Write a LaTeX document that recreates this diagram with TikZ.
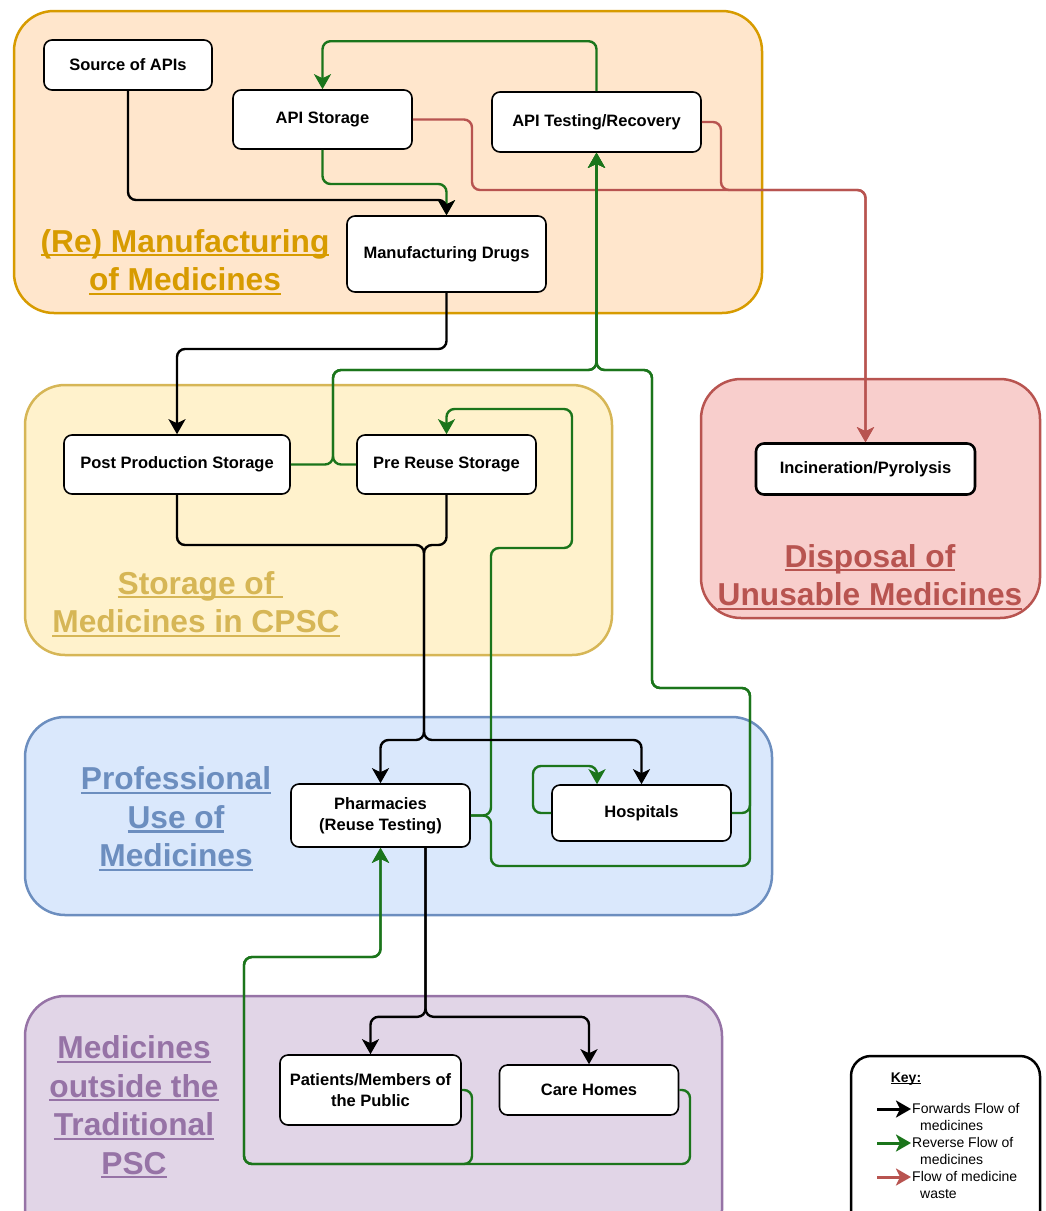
\documentclass[tikz,border=0pt]{standalone}
\usepackage{fontspec}
\setmainfont{Liberation Sans}
\usetikzlibrary{arrows.meta, positioning}

\definecolor{mfgfill}{HTML}{FFE6CC}
\definecolor{mfgline}{HTML}{D79B00}
\definecolor{stofill}{HTML}{FFF2CC}
\definecolor{stoline}{HTML}{D6B656}
\definecolor{dspfill}{HTML}{F8CECC}
\definecolor{dspline}{HTML}{B85450}
\definecolor{profill}{HTML}{DAE8FC}
\definecolor{proline}{HTML}{6C8EBF}
\definecolor{outsfill}{HTML}{E1D5E7}
\definecolor{outsline}{HTML}{9673A6}
\definecolor{revgreen}{HTML}{1B751B}
\definecolor{wastered}{HTML}{B85450}

\newlength{\undlwd}
\newcommand{\undl}[1]{\settowidth{\undlwd}{#1}\rlap{\rule[-0.13em]{\undlwd}{0.065em}}#1}

\begin{document}
\begin{tikzpicture}[
    x=1pt, y=-1pt,
    grp/.style={draw, line width=2.5pt, rounded corners=40pt},
    grplabel/.style={align=center, font=\bfseries\fontsize{31.7}{38.5}\selectfont},
    box/.style={rectangle, draw, fill=white, line width=1.6pt, rounded corners=8pt,
                minimum width=179pt, minimum height=59pt, align=center,
                font=\bfseries\fontsize{16.5}{21}\selectfont},
    fwd/.style={draw=black, line width=2.4pt, rounded corners=8pt,
                -{Stealth[length=15pt, width=17pt, inset=4pt]}},
    rev/.style={fwd, draw=revgreen},
    waste/.style={fwd, draw=wastered},
    keyarr/.style={draw=black, line width=3pt, -{Stealth[length=15pt, width=17pt, inset=4pt]}},
    keytext/.style={anchor=north west, align=left, inner sep=0pt,
                    font=\fontsize{14}{17}\selectfont},
]
    \useasboundingbox (0,0) rectangle (1046,1211);
    \clip (0,0) rectangle (1046,1211);

    \draw[grp, draw=mfgline, fill=mfgfill]   (14,11)  rectangle (762,313);
    \draw[grp, draw=stoline, fill=stofill]   (25,385) rectangle (612,655);
    \draw[grp, draw=dspline, fill=dspfill]   (701,379) rectangle (1040,618);
    \draw[grp, draw=proline, fill=profill]   (25,717) rectangle (772,915);
    \draw[grp, draw=outsline, fill=outsfill] (25,996) rectangle (722,1250);

    \node[grplabel, text=mfgline]  (mfglabel) at (185,262)  {\undl{(Re) Manufacturing}\\\undl{of Medicines}};
    \node[grplabel, text=stoline]  (stolabel) at (196,604)  {\undl{Storage of\ }\\\undl{Medicines in CPSC}};
    \node[grplabel, text=dspline]  (dsplabel) at (870,577)  {\undl{Disposal of}\\\undl{Unusable Medicines}};
    \node[grplabel, text=proline]  (prolabel) at (176,819)  {\undl{Professional}\\\undl{Use of}\\\undl{Medicines}};
    \node[grplabel, text=outsline] (outlabel) at (134,1107) {\undl{Medicines}\\\undl{outside the}\\\undl{Traditional}\\\undl{PSC}};

    \node[box, minimum width=168pt, minimum height=50pt] (src)      at (128,65)      {Source of APIs};
    \node[box]                                           (apistore) at (322.5,119.5) {API Storage};
    \node[box, minimum width=209pt, minimum height=60pt] (apitest)  at (596.5,122)   {API Testing/Recovery};
    \node[box, minimum width=199pt, minimum height=76pt] (mfg)      at (446.5,254)   {Manufacturing Drugs};
    \node[box, minimum width=226pt]                      (postprod) at (177,464.5)   {Post Production Storage};
    \node[box]                                           (prereuse) at (446.5,464.5) {Pre Reuse Storage};
    \node[box, minimum width=219pt, minimum height=51pt, line width=2.6pt] (incin) at (865.5,469) {Incineration/Pyrolysis};
    \node[box, minimum height=63pt]                      (pharm)    at (380.5,815.5) {Pharmacies\\(Reuse Testing)};
    \node[box, minimum height=56pt]                      (hosp)     at (641.5,813)   {Hospitals};
    \node[box, minimum width=181pt, minimum height=70pt] (patients) at (370.5,1090)  {Patients/Members of\\the Public};
    \node[box, minimum height=50pt]                      (care)     at (589,1090)    {Care Homes};

    \draw[waste] (apistore.east) -| (472,190) -| (incin.north);
    \draw[waste] (apitest.east)  -| (721,190) -| (incin.north);

    \draw[rev] (apitest.north) -- ++(0,-50) -| (apistore.north);
    \draw[rev] (apistore.south) |- (446.5,184) -- (mfg.north);
    \draw[rev] (postprod.east) -| (333,370) -| (apitest.south);
    \draw[rev] (prereuse.west) -| (333,370) -| (apitest.south);
    \draw[rev] (pharm.east) -| (491,548) -| (572,409) -| (prereuse.north);
    \draw[rev] (pharm.east) -| (491,866) -| (750,688) -| (652,370) -| (apitest.south);
    \draw[rev] (hosp.east) -| (750,688) -| (652,370) -| (apitest.south);
    \draw[rev] (hosp.west) -| (533,766) -| ([xshift=-44.5pt]hosp.north);
    \draw[rev] (patients.east) -| (472,1164) -| (244,957) -| (pharm.south);
    \draw[rev] (care.east) -| (690,1164) -| (244,957) -| (pharm.south);

    \draw[fwd] (src.south) |- (446.5,200) -- (mfg.north);
    \draw[fwd] (mfg.south) |- (177,349) -- (postprod.north);
    \draw[fwd] (postprod.south) |- (424,545) -- (424,740) -| (pharm.north);
    \draw[fwd] (prereuse.south) |- (424,545) -- (424,740) -| (hosp.north);
    \draw[fwd] ([xshift=45pt]pharm.south) -- ++(0,169) -| (patients.north);
    \draw[fwd] ([xshift=45pt]pharm.south) -- ++(0,169) -| (care.north);

    \draw[line width=2.5pt, rounded corners=20pt, fill=white] (851,1056) rectangle (1040,1250);
    \node[font=\bfseries\fontsize{14}{17}\selectfont] (keytitle) at (906,1079) {\undl{Key:}};
    \coordinate (kfwd)   at (877,1109);
    \coordinate (krev)   at (877,1143);
    \coordinate (kwaste) at (877,1177);
    \draw[keyarr] (kfwd) -- ++(34,0);
    \draw[keyarr, draw=revgreen] (krev) -- ++(34,0);
    \draw[keyarr, draw=wastered] (kwaste) -- ++(34,0);
    \node[keytext] (kfwdtext)   at (912,1103) {Forwards Flow of\\\hspace*{8pt}medicines};
    \node[keytext] (krevtext)   at (912,1137) {Reverse Flow of\\\hspace*{8pt}medicines};
    \node[keytext] (kwastetext) at (912,1171) {Flow of medicine\\\hspace*{8pt}waste};
\end{tikzpicture}
\end{document}
